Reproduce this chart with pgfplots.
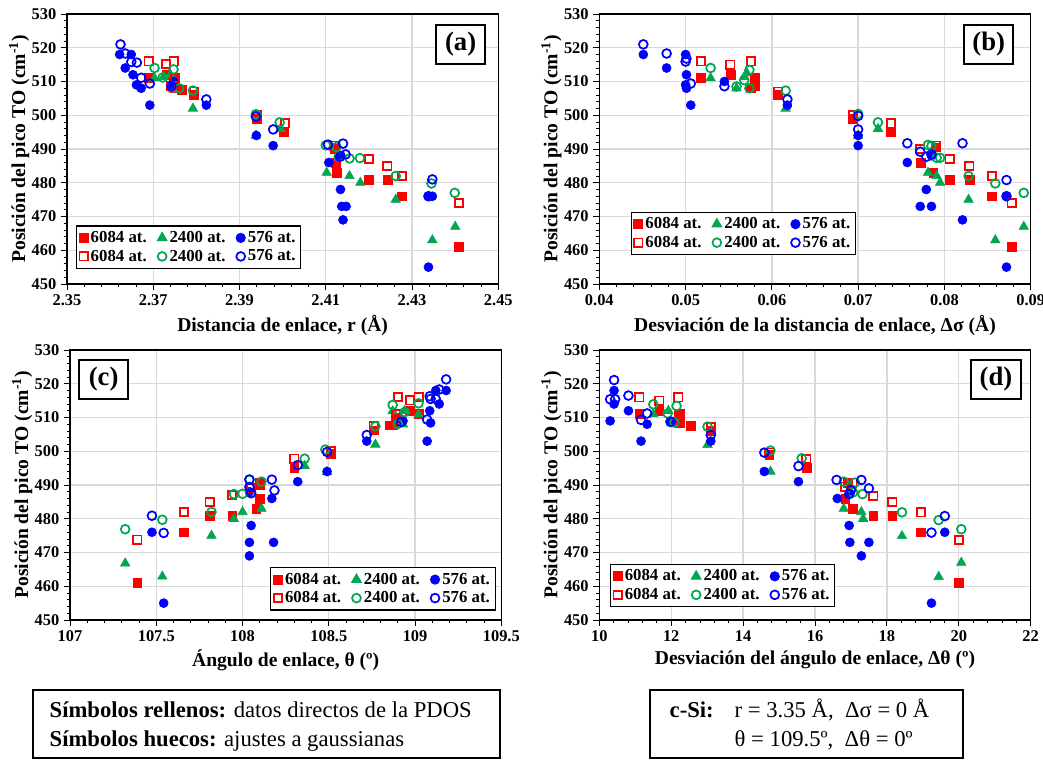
\documentclass[border=0pt]{standalone}
\usepackage{pgfplots}
\pgfplotsset{compat=1.18}
\usepackage{fontspec}
\setmainfont{Liberation Serif}
\definecolor{cred}{RGB}{255,0,0}
\definecolor{cgreen}{RGB}{0,166,80}
\definecolor{cblue}{RGB}{0,0,255}
\definecolor{cgrid}{RGB}{217,217,217}
\tikzset{plabel/.style={draw=black, line width=1.6pt, fill=white, font=\fontsize{20}{20}\selectfont\bfseries, minimum width=37pt, minimum height=29pt, inner sep=0pt}}
\pgfplotsset{
  panel/.style={
    scale only axis, width=323.5pt, height=202.5pt,
    ymin=450, ymax=530, ytick={450,460,...,530},
    minor x tick num=4, minor y tick num=4,
    tick align=outside, tick pos=left,
    major tick length=4.5pt, minor tick length=2.5pt,
    every tick/.style={black, line width=0.6pt},
    axis line style={black, line width=0.8pt},
    grid=major, major grid style={cgrid, line width=1pt},
    tick label style={font=\fontsize{12.3}{12.3}\selectfont\bfseries},
    /pgf/number format/assume math mode=true,
    scaled x ticks=false,
    label style={font=\fontsize{14.7}{15}\selectfont\bfseries},
    ylabel={Posición del pico TO (cm\textsuperscript{-1})},
    ylabel style={at={(rel axis cs:-0.111,0.5)}, anchor=center},
    xlabel style={at={(rel axis cs:0.5,-0.155)}, anchor=center},
    legend columns=3,
    legend cell align=left,
    legend style={draw=black, line width=0.8pt, font=\fontsize{12.6}{15}\selectfont\bfseries, inner xsep=2pt, inner ysep=2pt, /tikz/every even column/.append style={column sep=6pt}},
  },
  twodec/.style={xticklabel style={/pgf/number format/fixed, /pgf/number format/fixed zerofill, /pgf/number format/precision=2}},
  fr/.style={only marks, mark=square*, mark size=3.3pt, color=cred},
  fg/.style={only marks, mark=triangle*, mark size=4.1pt, color=cgreen},
  fb/.style={only marks, mark=*, mark size=3.4pt, color=cblue},
  or/.style={only marks, mark=square, mark size=3.1pt, color=cred, mark options={line width=1.3pt}},
  og/.style={only marks, mark=o, mark size=3.3pt, color=cgreen, mark options={line width=1.3pt}},
  ob/.style={only marks, mark=o, mark size=3.3pt, color=cblue, mark options={line width=1.3pt}},
}
\begin{document}
\begin{tikzpicture}
\useasboundingbox (0,0) rectangle (782.25pt,570pt);
% ---------------- (a)
\begin{axis}[panel, twodec, at={(50.25pt,357pt)}, anchor=south west,
  xmin=2.35, xmax=2.45, xtick={2.35,2.37,2.39,2.41,2.43,2.45},
  xlabel={Distancia de enlace, r (Å)},
  legend style={at={(0.021,0.056)}, anchor=south west}]
\addplot[fr] coordinates {(2.369,511) (2.373,512) (2.3747,510.7) (2.375,508.2) (2.3767,507.6) (2.3794,506) (2.394,499) (2.4003,495) (2.412,490) (2.4123,486) (2.4125,483) (2.42,481) (2.4243,481) (2.4277,476) (2.4409,461)};
\addplot[fg] coordinates {(2.3703,511) (2.3724,511.4) (2.374,512) (2.3746,507.7) (2.3792,502) (2.3938,494) (2.3995,496) (2.4102,483) (2.4155,482) (2.418,480) (2.4262,475) (2.4347,463) (2.44,467)};
\addplot[fb] coordinates {(2.3622,518) (2.3635,514) (2.3649,518) (2.3653,512) (2.3661,509) (2.3672,508) (2.3692,503) (2.3742,509) (2.3747,510) (2.3823,503) (2.3939,494) (2.3978,491) (2.4107,486) (2.4135,488) (2.4134,478) (2.4137,473) (2.4147,473) (2.414,469) (2.4338,476) (2.4347,476) (2.4338,455)};
\addplot[or] coordinates {(2.3689,516) (2.373,515.2) (2.3747,516) (2.375,511) (2.3741,508.6) (2.3794,507) (2.394,500) (2.4005,497.6) (2.412,491) (2.42,487) (2.4243,485) (2.4277,482) (2.4409,474)};
\addplot[og] coordinates {(2.3703,514) (2.3722,511.2) (2.3747,513.6) (2.376,508) (2.3792,507.3) (2.3938,500.3) (2.3993,497.9) (2.41,491.1) (2.4125,490.6) (2.413,487.7) (2.4155,487.2) (2.4179,487.3) (2.4262,482) (2.4345,479.8) (2.4399,477)};
\addplot[ob] coordinates {(2.3624,521) (2.3635,518.3) (2.3649,515.8) (2.3662,515.6) (2.3672,511.1) (2.3692,509.4) (2.3742,508.6) (2.3823,504.7) (2.3938,499.6) (2.3978,495.8) (2.4105,491.3) (2.414,491.6) (2.4133,487.7) (2.4146,488.4) (2.4338,476) (2.4347,481)};
\legend{6084 at., 2400 at., 576 at., 6084 at., 2400 at., 576 at.}
\node[plabel] at (rel axis cs:0.9126,0.887) {(a)};
\end{axis}
% ---------------- (b)
\begin{axis}[panel, twodec, at={(449.5pt,357pt)}, anchor=south west,
  xmin=0.04, xmax=0.09, xtick={0.04,0.05,0.06,0.07,0.08,0.09},
  xlabel={Desviación de la distancia de enlace, Δσ (Å)},
  legend style={at={(0.073,0.107)}, anchor=south west}]
\addplot[fr] coordinates {(0.0518,511) (0.0552,512) (0.0576,508) (0.058,510.4) (0.058,508.6) (0.0607,506) (0.0694,499) (0.0738,495) (0.079,490.5) (0.0773,486) (0.0787,483) (0.0806,481) (0.0829,481) (0.0855,476) (0.0878,461)};
\addplot[fg] coordinates {(0.0529,511) (0.0559,508) (0.0568,511.4) (0.0571,512.5) (0.0616,502) (0.07,494) (0.0723,496) (0.0781,483) (0.0791,482) (0.0795,480) (0.0828,475) (0.0859,463) (0.0892,467)};
\addplot[fb] coordinates {(0.0451,518) (0.0478,514) (0.05,518) (0.0501,512) (0.05,509) (0.0501,508) (0.0506,503) (0.0545,510) (0.0618,503) (0.07,494) (0.07,491) (0.0757,486) (0.0785,488) (0.0779,478) (0.0772,473) (0.0785,473) (0.0821,469) (0.0872,476) (0.0872,455)};
\addplot[or] coordinates {(0.0518,516) (0.0552,515) (0.0576,516) (0.058,511) (0.0607,507) (0.0694,500) (0.0738,497.6) (0.0772,490) (0.079,491) (0.0806,487) (0.0829,485) (0.0855,482) (0.0878,474)};
\addplot[og] coordinates {(0.0529,514) (0.0559,508.5) (0.0568,510.4) (0.0574,513.4) (0.0574,508) (0.0616,507.3) (0.07,500.4) (0.0723,497.9) (0.0781,491.2) (0.0785,490.9) (0.0791,487.4) (0.0795,487.4) (0.0828,482) (0.0859,479.8) (0.0892,477)};
\addplot[ob] coordinates {(0.0451,521) (0.0478,518.3) (0.05,515.9) (0.0501,516.8) (0.0506,509.4) (0.0545,508.6) (0.0618,504.7) (0.07,499.8) (0.07,495.8) (0.0757,491.7) (0.0772,489.2) (0.0779,487.7) (0.0785,488.4) (0.0821,491.7) (0.0872,480.8) (0.0872,476)};
\legend{6084 at., 2400 at., 576 at., 6084 at., 2400 at., 576 at.}
\node[plabel] at (rel axis cs:0.9027,0.887) {(b)};
\end{axis}
% ---------------- (c)
\begin{axis}[panel, at={(52.5pt,105pt)}, anchor=south west,
  xmin=107, xmax=109.5, xtick={107,107.5,108,108.5,109,109.5},
  xlabel={Ángulo de enlace, θ (º)},
  xlabel style={at={(rel axis cs:0.5,-0.149)}},
  legend style={at={(0.987,0.035)}, anchor=south east}]
\addplot[fr] coordinates {(107.39,461) (107.66,476) (107.81,481) (107.94,481) (108.08,483) (108.1,486) (108.1,490) (108.3,495.2) (108.51,499.2) (108.76,506.2) (108.85,507.7) (108.87,507.7) (108.89,510) (108.97,512) (109.02,511.2)};
\addplot[fg] coordinates {(107.32,466.8) (107.535,462.9) (107.82,475) (107.95,480) (108.0,482) (108.11,483) (108.36,495.7) (108.49,493.9) (108.77,502) (108.87,511.9) (108.94,512) (108.93,508) (109.02,510.9)};
\addplot[fb] coordinates {(107.475,476) (107.543,455) (108.05,478) (108.04,473) (108.04,469) (108.18,473) (108.04,488) (108.17,486) (108.32,491) (108.49,494) (108.72,503) (108.93,509) (109.07,503) (109.085,512) (109.09,508.4) (109.14,514) (109.18,518) (109.12,518)};
\addplot[or] coordinates {(107.39,473.8) (107.66,482) (107.81,485) (107.94,487) (108.05,489) (108.1,490.5) (108.3,497.8) (108.51,500) (108.76,507.4) (108.89,511) (108.9,516.1) (108.97,515.1) (109.02,516.1)};
\addplot[og] coordinates {(107.32,476.9) (107.535,479.7) (107.82,482) (107.95,487.3) (108.0,487.4) (108.05,487.6) (108.11,491) (108.04,491.6) (108.36,497.8) (108.48,500.5) (108.77,507.4) (108.87,513.7) (108.9,508.1) (108.94,511.6) (109.02,514.2)};
\addplot[ob] coordinates {(107.475,480.9) (107.543,475.8) (108.04,491.6) (108.04,489.4) (108.05,487.6) (108.17,491.6) (108.185,488.4) (108.32,495.9) (108.49,499.8) (108.72,504.8) (108.92,508.7) (109.07,509.4) (109.085,516.3) (109.09,515.5) (109.12,515.5) (109.14,518.3) (109.18,521.3)};
\legend{6084 at., 2400 at., 576 at., 6084 at., 2400 at., 576 at.}
\node[plabel] at (rel axis cs:0.078,0.891) {(c)};
\end{axis}
% ---------------- (d)
\begin{axis}[panel, at={(449.5pt,105pt)}, anchor=south west,
  xmin=10, xmax=22, xtick={10,12,...,22},
  xlabel={Desviación del ángulo de enlace, Δθ (º)},
  xlabel style={at={(rel axis cs:0.5,-0.149)}},
  legend style={at={(0.025,0.047)}, anchor=south west}]
\addplot[fr] coordinates {(11.11,511) (11.67,512) (12.2,511) (12.24,508.3) (12.54,507.5) (13.1,506) (14.73,498.9) (15.76,495) (16.92,490.7) (16.84,486) (17.04,483) (17.62,481) (18.15,481) (18.95,476) (20.0,461)};
\addplot[fg] coordinates {(11.5,511) (11.92,512) (12.01,508.3) (13.01,501.9) (14.76,494) (16.8,483) (17.29,482) (17.34,480) (18.42,474.9) (19.44,462.8) (20.07,467)};
\addplot[fb] coordinates {(10.3,509) (10.41,514) (10.41,518) (10.81,512) (11.16,503) (11.33,508) (11.98,509) (13.1,503) (14.59,494) (15.54,491) (16.62,486) (16.97,487.5) (16.95,478) (16.97,473) (17.5,473) (17.29,469) (19.24,455) (19.61,476)};
\addplot[or] coordinates {(11.11,516) (11.67,515) (12.2,516) (12.24,511) (13.1,507.1) (14.73,499.6) (15.76,497.7) (16.84,489.5) (17.04,490.7) (17.62,486.8) (18.15,484.9) (18.95,481.9) (20.0,473.7)};
\addplot[og] coordinates {(11.5,513.9) (11.9,511.2) (12.09,508.5) (12.15,513.4) (13.01,507.3) (14.76,500.2) (15.63,497.9) (16.8,491) (17.11,490.7) (17.06,487.8) (17.32,487.3) (18.42,481.9) (19.44,479.6) (20.07,476.9)};
\addplot[ob] coordinates {(10.3,515.4) (10.44,515.4) (10.41,521.1) (10.81,516.5) (11.16,509.3) (11.33,511.2) (11.98,508.7) (13.1,504.8) (14.59,499.6) (15.54,495.6) (16.6,491.5) (16.95,487.3) (17.0,488.5) (17.29,491.5) (17.5,489) (19.24,475.9) (19.61,480.8)};
\legend{6084 at., 2400 at., 576 at., 6084 at., 2400 at., 576 at.}
\node[plabel] at (rel axis cs:0.9196,0.891) {(d)};
\end{axis}
% ---------------- bottom boxes
\draw[black, line width=1pt] (24.75pt,1.5pt) rectangle (375pt,52.5pt);
\node[anchor=base west, font=\fontsize{17}{17}\selectfont] at (33.75pt,31.5pt) {\textbf{Símbolos rellenos:} datos directos de la PDOS};
\node[anchor=base west, font=\fontsize{17}{17}\selectfont] at (33.75pt,10pt) {\textbf{Símbolos huecos:} ajustes a gaussianas};
\draw[black, line width=1pt] (487.5pt,1.5pt) rectangle (722.25pt,52.5pt);
\node[anchor=base west, font=\fontsize{17}{17}\selectfont\bfseries] at (498.75pt,31.5pt) {c-Si:};
\node[anchor=base west, font=\fontsize{17}{17}\selectfont] at (547.5pt,31.5pt) {r = 3.35 Å,\ \ Δσ = 0 Å};
\node[anchor=base west, font=\fontsize{17}{17}\selectfont] at (547.5pt,10pt) {θ = 109.5º,\ \ Δθ = 0º};
\end{tikzpicture}
\end{document}
